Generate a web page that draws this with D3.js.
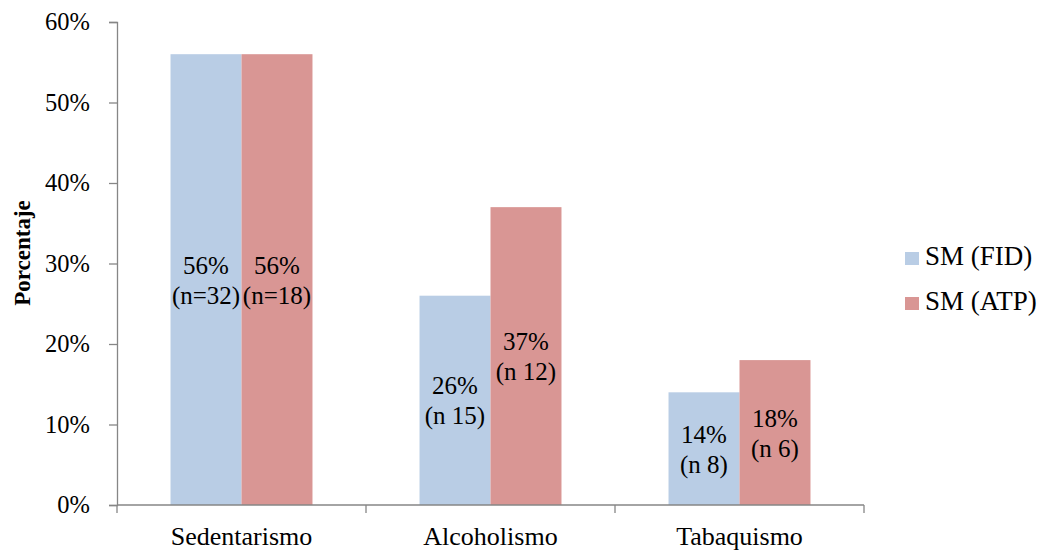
<!DOCTYPE html>
<html>
<head>
<meta charset="utf-8">
<script src="https://d3js.org/d3.v7.min.js"></script>
<style>
body { margin: 0; background: #fff; }
text { font-family: "Liberation Serif", "Times New Roman", serif; fill: #000; }
</style>
</head>
<body>
<script>
//Data
var categories = ["Sedentarismo", "Alcoholismo", "Tabaquismo"];
var series = ["SM (FID)", "SM (ATP)"];
var fidValues = [56, 26, 14];
var atpValues = [56, 37, 18];
var fidLabels = [["56%", "(n=32)"], ["26%", "(n 15)"], ["14%", "(n 8)"]];
var atpLabels = [["56%", "(n=18)"], ["37%", "(n 12)"], ["18%", "(n 6)"]];
var yTicks = [0, 10, 20, 30, 40, 50, 60];
var colors = ["#B9CDE5", "#D99694"];

//Width and height
var w = 1040;
var h = 553;
var plotLeft = 117, plotRight = 864, plotTop = 22, plotBottom = 505;

var svg = d3.select("body")
            .append("svg")
            .attr("width", w)
            .attr("height", h);

var x = d3.scaleBand()
          .domain(categories)
          .range([plotLeft, plotRight])
          .paddingInner(0)
          .paddingOuter(0);

var inner = d3.scaleBand()
              .domain(series)
              .range([0, x.bandwidth()])
              .paddingInner(0)
              .paddingOuter(0.754);

var y = d3.scaleLinear()
          .domain([0, 60])
          .range([plotBottom, plotTop]);

//Y axis
var yAxis = svg.append("g")
   .attr("transform", "translate(" + plotLeft + ",0)")
   .call(d3.axisLeft(y).tickValues(yTicks).tickSize(8).tickPadding(19)
         .tickFormat(function(d) { return d + "%"; }));
yAxis.selectAll("line, path").attr("stroke", "#868686").attr("stroke-width", 1.3);
yAxis.selectAll("text").attr("font-size", 24.5).attr("font-family", "Liberation Serif");

//Bars
var data = [];
categories.forEach(function(c, i) {
    data.push({cat: c, s: series[0], v: fidValues[i], lab: fidLabels[i], col: colors[0]});
    data.push({cat: c, s: series[1], v: atpValues[i], lab: atpLabels[i], col: colors[1]});
});

svg.selectAll("rect.bar")
   .data(data)
   .enter()
   .append("rect")
   .attr("class", "bar")
   .attr("x", function(d) { return x(d.cat) + inner(d.s); })
   .attr("width", inner.bandwidth())
   .attr("y", function(d) { return y(d.v); })
   .attr("height", function(d) { return y(0) - y(d.v); })
   .attr("fill", function(d) { return d.col; });

//Data labels
function labX(d) { return x(d.cat) + inner(d.s) + inner.bandwidth() / 2; }
var lab = svg.selectAll("text.lab")
   .data(data)
   .enter()
   .append("text")
   .attr("class", "lab")
   .attr("text-anchor", "middle")
   .attr("font-size", 25)
   .attr("x", labX)
   .attr("y", function(d) { return (y(d.v) + y(0)) / 2; });
lab.append("tspan")
   .attr("x", labX)
   .attr("dy", -6)
   .text(function(d) { return d.lab[0]; });
lab.append("tspan")
   .attr("x", labX)
   .attr("dy", 30)
   .text(function(d) { return d.lab[1]; });

//X axis
var xAxis = svg.append("g")
   .attr("transform", "translate(0," + plotBottom + ")")
   .call(d3.axisBottom(x).tickSize(0));
xAxis.selectAll("line, path").attr("stroke", "#868686").attr("stroke-width", 1.3);
xAxis.select(".domain").attr("d", "M" + plotLeft + ",0H" + plotRight);
xAxis.selectAll("text")
   .attr("font-size", 26)
   .attr("font-family", "Liberation Serif")
   .attr("y", 40)
   .attr("dy", 0);
//category separator ticks
xAxis.selectAll("line.sep")
   .data(d3.range(categories.length + 1))
   .enter()
   .append("line")
   .attr("class", "sep")
   .attr("x1", function(i) { return plotLeft + i * x.step(); })
   .attr("x2", function(i) { return plotLeft + i * x.step(); })
   .attr("y1", 0)
   .attr("y2", 8)
   .attr("stroke", "#868686")
   .attr("stroke-width", 1.3);

//Y title
svg.append("text")
   .attr("transform", "translate(30,253) rotate(-90)")
   .attr("text-anchor", "middle")
   .attr("font-size", 23)
   .attr("font-weight", "bold")
   .text("Porcentaje");

//Legend
var legend = svg.selectAll("g.legend")
   .data(series)
   .enter()
   .append("g")
   .attr("class", "legend")
   .attr("transform", function(d, i) { return "translate(905," + (265 + i * 45) + ")"; });
legend.append("rect")
   .attr("x", 0).attr("y", -13)
   .attr("width", 14).attr("height", 13)
   .attr("fill", function(d, i) { return colors[i]; });
legend.append("text")
   .attr("x", 20)
   .attr("y", 0)
   .attr("font-size", 27)
   .text(function(d) { return d; });
</script>
</body>
</html>
